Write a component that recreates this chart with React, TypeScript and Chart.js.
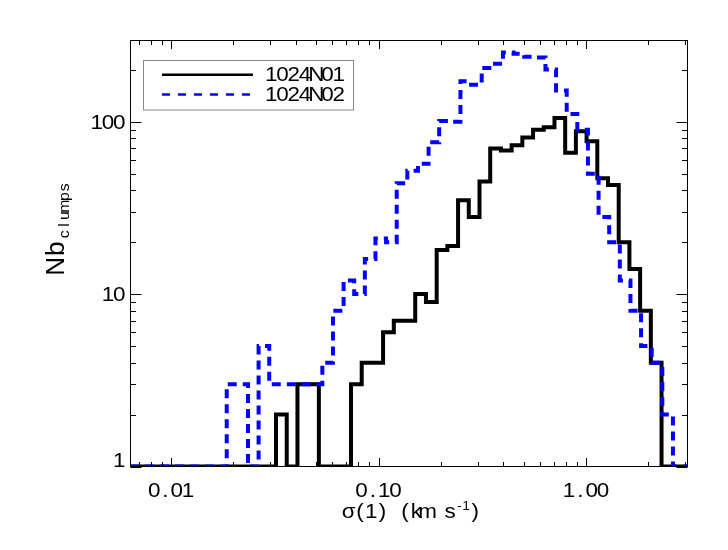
import React, { useEffect, useRef } from 'react';
import { Chart, registerables } from 'chart.js';

Chart.register(...registerables);

// ---- axis ranges ----
const X_AXIS_MIN = 0.006342;
const X_AXIS_MAX = 3.102;
const Y_AXIS_MIN = 1;
const Y_AXIS_MAX = 298;

// ---- series names ----
const SERIES_LABELS = ['1024N01', '1024N02'];

// ---- 1024N01: histogram bin edges (km/s) and counts per bin ----
const N01_EDGES = [
  0.03206, 0.03611, 0.04067, 0.0458, 0.05158, 0.05809, 0.06542, 0.07368, 0.08298, 0.09345,
  0.1052, 0.1185, 0.1335, 0.1503, 0.1693, 0.1907, 0.2147, 0.2418, 0.2723, 0.3067,
  0.3454, 0.389, 0.4381, 0.4934, 0.5557, 0.6258, 0.7048, 0.7937, 0.8939, 1.0065,
  1.1336, 1.2766, 1.4377, 1.6192, 1.8235, 2.0537, 2.3128,
];
const N01_COUNTS = [
  2, 0, 3, 3, 0, 0, 0, 3, 4, 4,
  6, 7, 7, 10, 9, 18, 19, 35, 28, 45,
  70, 68, 73, 81, 90, 93, 105, 66, 88, 77,
  47, 43, 20, 14, 8, 4,
];

// ---- 1024N02: histogram bin edges (km/s) and counts per bin ----
const N02_EDGES = [
  0.018554, 0.020875, 0.023488, 0.026426, 0.029734, 0.033454, 0.03764, 0.04235, 0.04765, 0.053612,
  0.06032, 0.06787, 0.076366, 0.08592, 0.096672, 0.10877, 0.12238, 0.13769, 0.15492, 0.17431,
  0.19612, 0.22066, 0.24827, 0.27933, 0.31429, 0.35362, 0.39788, 0.44766, 0.50368, 0.56671,
  0.63763, 0.71741, 0.80718, 0.90819, 1.0219, 1.1498, 1.2937, 1.4555, 1.6378, 1.8426,
  2.0732, 2.3327, 2.6245,
];
const N02_COUNTS = [
  3, 3, 0, 5, 3, 3, 3, 3, 3, 4,
  8, 12, 10, 16, 21, 20, 44, 52, 57, 76,
  101, 100, 172, 164, 205, 217, 252, 248, 238, 236,
  201, 152, 111, 90, 50, 28, 20, 12, 8, 5,
  4, 2,
];

// ---- ticks ----
const X_MAJOR_TICKS = [0.01, 0.1, 1];
const X_TICK_LABELS = ['0.01', '0.10', '1.00'];
const X_MINOR_TICKS = [
  0.007, 0.008, 0.009,
  0.02, 0.03, 0.04, 0.05, 0.06, 0.07, 0.08, 0.09,
  0.2, 0.3, 0.4, 0.5, 0.6, 0.7, 0.8, 0.9,
  2, 3,
];
const Y_MAJOR_TICKS = [1, 10, 100];
const Y_TICK_LABELS = ['1', '10', '100'];
const Y_MINOR_TICKS = [2, 3, 4, 5, 6, 7, 8, 9, 20, 30, 40, 50, 60, 70, 80, 90, 200];

const X_TITLE_MAIN = 'σ(1) (km s';
const X_TITLE_SUP = '-1';
const X_TITLE_END = ')';
const Y_TITLE_MAIN = 'Nb';
const Y_TITLE_SUB = 'clumps';

const FONT = '"Liberation Sans", Arial, Helvetica, sans-serif';
const BLUE = '#0000ff';

function histPoints(edges: number[], counts: number[]) {
  const pts: { x: number; y: number }[] = [{ x: X_AXIS_MIN, y: Y_AXIS_MIN }];
  counts.forEach((c, i) => pts.push({ x: edges[i], y: Math.max(c, Y_AXIS_MIN) }));
  pts.push({ x: edges[edges.length - 1], y: Y_AXIS_MIN });
  pts.push({ x: X_AXIS_MAX, y: Y_AXIS_MIN });
  return pts;
}

// monospaced, slightly stretched glyph cells (mimics IDL vector font)
function drawCells(
  ctx: CanvasRenderingContext2D,
  text: string,
  x0: number,
  y: number,
  size: number,
  adv: number,
  stretch = 1.15,
) {
  ctx.font = `${size}px ${FONT}`;
  ctx.textAlign = 'center';
  ctx.textBaseline = 'alphabetic';
  for (let i = 0; i < text.length; i++) {
    ctx.save();
    ctx.translate(x0 + adv * (i + 0.5), y);
    ctx.scale(stretch, 1);
    ctx.fillText(text[i], 0, 0);
    ctx.restore();
  }
  return x0 + adv * text.length;
}

const LABEL_SIZE = 19.5;
const LABEL_ADV = 11.28;

const idlAxesPlugin = {
  id: 'idlAxes',
  afterDatasetsDraw(chart: any) {
    const ctx: CanvasRenderingContext2D = chart.ctx;
    const { left, right, top, bottom } = chart.chartArea;
    const xs = chart.scales.x;
    const ys = chart.scales.y;
    ctx.save();
    ctx.strokeStyle = '#000';
    ctx.fillStyle = '#000';
    ctx.lineWidth = 1;
    const L = Math.round(left) + 0.5;
    const R = Math.round(right) - 0.5;
    const T = Math.round(top) + 0.5;
    const B = Math.round(bottom) - 0.5;
    ctx.strokeRect(L, T, R - L, B - T);

    const xMaj = 8.5, xMin = 4.5, yMaj = 11, yMin = 5.5;
    ctx.beginPath();
    const xTick = (v: number, len: number) => {
      const px = Math.round(xs.getPixelForValue(v)) + 0.5;
      ctx.moveTo(px, B); ctx.lineTo(px, B - len);
      ctx.moveTo(px, T); ctx.lineTo(px, T + len);
    };
    const yTick = (v: number, len: number) => {
      const py = Math.round(ys.getPixelForValue(v)) + 0.5;
      ctx.moveTo(L, py); ctx.lineTo(L + len, py);
      ctx.moveTo(R, py); ctx.lineTo(R - len, py);
    };
    X_MAJOR_TICKS.forEach((v) => xTick(v, xMaj));
    X_MINOR_TICKS.forEach((v) => xTick(v, xMin));
    Y_MAJOR_TICKS.forEach((v) => yTick(v, yMaj));
    Y_MINOR_TICKS.forEach((v) => yTick(v, yMin));
    ctx.stroke();

    // tick labels
    X_MAJOR_TICKS.forEach((v, i) => {
      const px = xs.getPixelForValue(v);
      const lab = X_TICK_LABELS[i];
      drawCells(ctx, lab, px - (LABEL_ADV * lab.length) / 2, bottom + 30, LABEL_SIZE, LABEL_ADV);
    });
    Y_MAJOR_TICKS.forEach((v, i) => {
      const py = ys.getPixelForValue(v);
      const lab = Y_TICK_LABELS[i];
      const base = Math.min(py + 7, bottom);
      drawCells(ctx, lab, left - 5 - LABEL_ADV * lab.length, base, LABEL_SIZE, LABEL_ADV);
    });

    // x title
    let x = 343;
    const xb = bottom + 51;
    x = drawCells(ctx, X_TITLE_MAIN, x, xb, LABEL_SIZE, LABEL_ADV);
    x = drawCells(ctx, X_TITLE_SUP, x, xb - 8, 12, 6.9);
    drawCells(ctx, X_TITLE_END, x, xb, LABEL_SIZE, LABEL_ADV);

    // y title (rotated)
    ctx.save();
    ctx.translate(64, 275);
    ctx.rotate(-Math.PI / 2);
    const ye = drawCells(ctx, Y_TITLE_MAIN, 0, 0, 25, 17.5, 1.05);
    drawCells(ctx, Y_TITLE_SUB, ye + 1, 5, 15, 9.4, 1.05);
    ctx.restore();

    // legend
    ctx.strokeStyle = '#888';
    ctx.lineWidth = 1;
    ctx.strokeRect(143.5, 60.5, 210, 49.5);
    ctx.strokeStyle = '#000';
    ctx.lineWidth = 2.5;
    ctx.beginPath();
    ctx.moveTo(162, 74.7); ctx.lineTo(253, 74.7);
    ctx.stroke();
    ctx.strokeStyle = BLUE;
    ctx.setLineDash([8, 8]);
    ctx.beginPath();
    ctx.moveTo(162, 94.5); ctx.lineTo(253, 94.5);
    ctx.stroke();
    ctx.setLineDash([]);
    ctx.fillStyle = '#000';
    drawCells(ctx, SERIES_LABELS[0], 265.5, 80.5, LABEL_SIZE, LABEL_ADV);
    drawCells(ctx, SERIES_LABELS[1], 265.5, 100.5, LABEL_SIZE, LABEL_ADV);
    ctx.restore();
  },
};

export default function App() {
  const ref = useRef<HTMLCanvasElement | null>(null);
  useEffect(() => {
    if (!ref.current) return;
    const chart = new Chart(ref.current, {
      type: 'line',
      data: {
        datasets: [
          {
            label: SERIES_LABELS[1],
            data: histPoints(N02_EDGES, N02_COUNTS),
            borderColor: BLUE,
            borderWidth: 4,
            borderDash: [9, 6],
            stepped: true,
            pointRadius: 0,
            fill: false,
            order: 0,
          },
          {
            label: SERIES_LABELS[0],
            data: histPoints(N01_EDGES, N01_COUNTS),
            borderColor: '#000',
            borderWidth: 4,
            stepped: true,
            pointRadius: 0,
            fill: false,
            order: 1,
          },
        ],
      },
      options: {
        responsive: false,
        animation: false,
        events: [],
        layout: { padding: { left: 130, right: 40, top: 40, bottom: 83.5 } },
        scales: {
          x: { type: 'logarithmic', min: X_AXIS_MIN, max: X_AXIS_MAX, display: false },
          y: { type: 'logarithmic', min: Y_AXIS_MIN, max: Y_AXIS_MAX, display: false },
        },
        plugins: { legend: { display: false }, tooltip: { enabled: false } },
      },
      plugins: [idlAxesPlugin],
    } as any);
    return () => chart.destroy();
  }, []);
  return (
    <div style={{ position: 'absolute', left: 0, top: 0, width: 728, height: 550, background: '#fff' }}>
      <canvas ref={ref} width={728} height={550} />
    </div>
  );
}
